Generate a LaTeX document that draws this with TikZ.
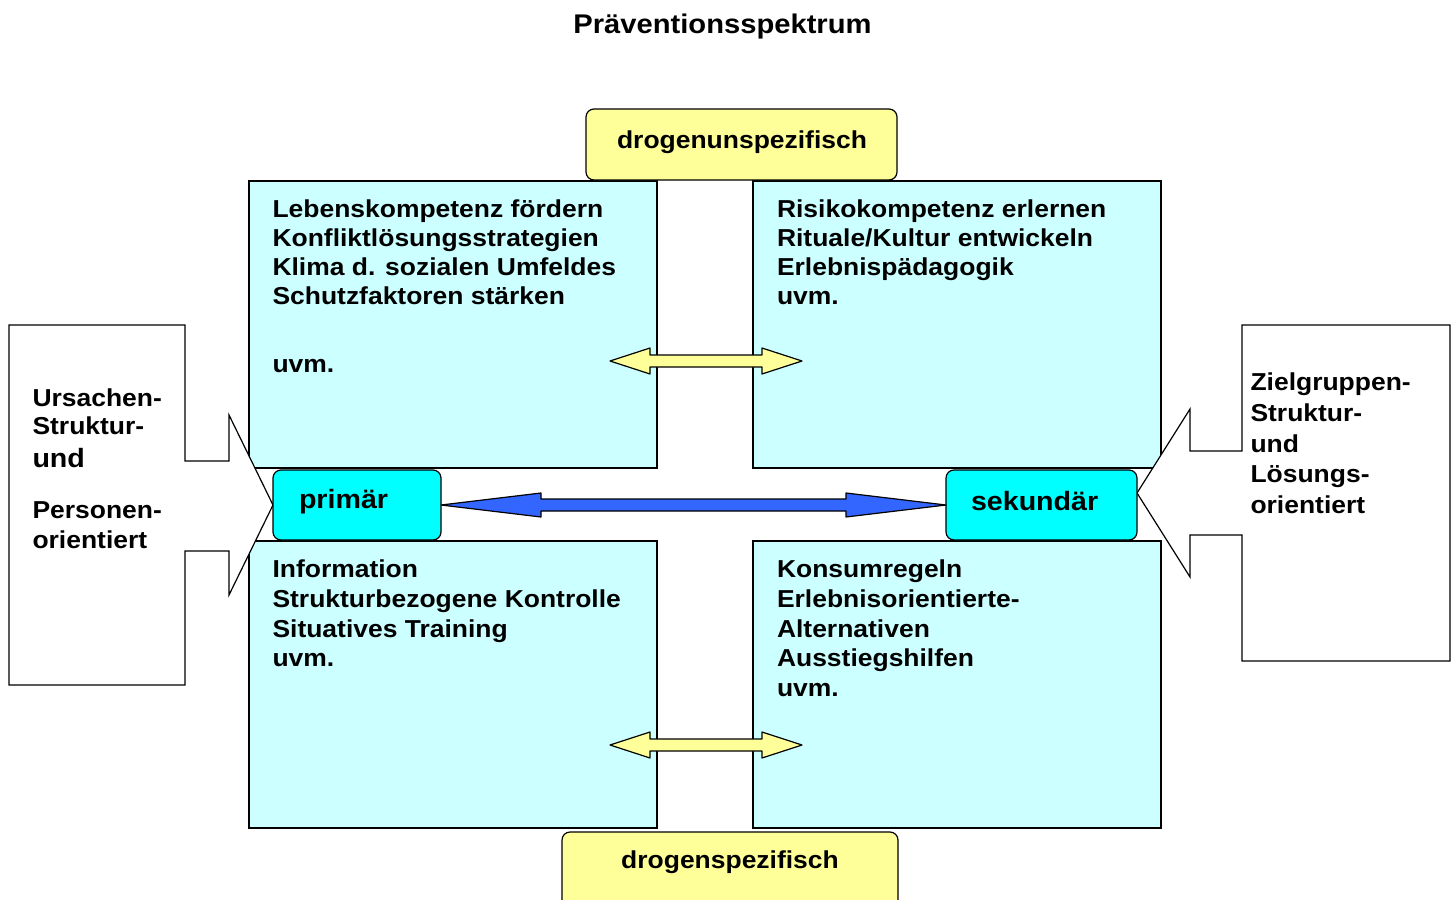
\documentclass[tikz,border=0pt]{standalone}
\usepackage{fontspec}
\setmainfont[FakeStretch=1.08]{Liberation Sans}
\usetikzlibrary{calc}
\definecolor{lcyan}{HTML}{CCFFFF}
\definecolor{fcyan}{HTML}{00FFFF}
\definecolor{lyel}{HTML}{FFFF99}
\definecolor{barrow}{HTML}{3366FF}
\newcommand\myTS{\rule{0pt}{20pt}}
\begin{document}
\begin{tikzpicture}[x=1pt,y=-1pt,
  every node/.style={inner sep=0pt, outer sep=0pt},
  quad/.style={draw=black, line width=1.2pt, fill=lcyan, rectangle, anchor=north west,
    minimum width=408pt, minimum height=287pt},
  ybox/.style={draw=black, line width=1.2pt, fill=lyel, rectangle, rounded corners=8pt, anchor=north west},
  cbox/.style={draw=black, line width=1.2pt, fill=fcyan, rectangle, rounded corners=8pt, anchor=north west,
    minimum height=70pt},
  callout/.style={draw=black, line width=1.2pt, fill=white, line join=miter},
  yarr/.style={draw=black, line width=1.2pt, fill=lyel, line join=round},
  barr/.style={draw=black, line width=1.2pt, fill=barrow, line join=round},
  txt/.style={font=\bfseries\fontsize{24.5}{28.5}\selectfont, align=left, anchor=north west},
  big/.style={font=\bfseries\fontsize{26.5}{30}\selectfont, anchor=base west},
]
\useasboundingbox (0,0) rectangle (1455,899);
\clip (0,0) rectangle (1455,899);

% title
\node[font=\bfseries\fontsize{27}{32}\selectfont, anchor=base] (title) at (722.5,33.3) {Präventionsspektrum};

% quadrants
\node[quad] (tl) at (249,181) {};
\node[quad] (tr) at (753,181) {};
\node[quad] (bl) at (249,541) {};
\node[quad] (br) at (753,541) {};

% yellow boxes
\node[ybox, minimum width=311pt, minimum height=71pt] (dun) at (586,109) {};
\node[font=\bfseries\fontsize{24.5}{28}\selectfont, anchor=base] (duntxt) at (742,148.3) {drogenunspezifisch};
\node[ybox, minimum width=336pt, minimum height=110pt] (ds) at (562,832) {};
\node[font=\bfseries\fontsize{24.5}{28}\selectfont, anchor=base] (dstxt) at (730,868.3) {drogenspezifisch};

% quadrant texts
\node[txt, font=\bfseries\fontsize{24.5}{29.2}\selectfont] (tltxt) at (272.5,197.3)
  {\myTS Lebenskompetenz fördern\\Konfliktlösungsstrategien\\Klima d. sozialen Umfeldes\\Schutzfaktoren stärken\\[38.8pt]uvm.};
\node[txt, font=\bfseries\fontsize{24.5}{29.2}\selectfont] (trtxt) at (777,197.3)
  {\myTS Risikokompetenz erlernen\\Rituale/Kultur entwickeln\\Erlebnispädagogik\\uvm.};
\node[txt, font=\bfseries\fontsize{24.5}{29.85}\selectfont] (bltxt) at (272.5,557.3)
  {\myTS Information\\Strukturbezogene Kontrolle\\Situatives Training\\uvm.};
\node[txt, font=\bfseries\fontsize{24.5}{29.85}\selectfont] (brtxt) at (777,557.3)
  {\myTS Konsumregeln\\Erlebnisorientierte-\\Alternativen\\Ausstiegshilfen\\uvm.};

% yellow double arrows
\coordinate (ya1) at (610,361);
\coordinate (ya2) at (802,361);
\draw[yarr] (ya1) -- ($(ya1)+(40,-13)$) -- ($(ya1)+(40,-6)$) -- ($(ya2)+(-40,-6)$) -- ($(ya2)+(-40,-13)$)
  -- (ya2) -- ($(ya2)+(-40,13)$) -- ($(ya2)+(-40,6)$) -- ($(ya1)+(40,6)$) -- ($(ya1)+(40,13)$) -- cycle;
\coordinate (yb1) at (610,745);
\coordinate (yb2) at (802,745);
\draw[yarr] (yb1) -- ($(yb1)+(40,-13)$) -- ($(yb1)+(40,-6)$) -- ($(yb2)+(-40,-6)$) -- ($(yb2)+(-40,-13)$)
  -- (yb2) -- ($(yb2)+(-40,13)$) -- ($(yb2)+(-40,6)$) -- ($(yb1)+(40,6)$) -- ($(yb1)+(40,13)$) -- cycle;

% left callout
\coordinate (ltip) at (273,505);
\draw[callout] (9,325) -- (185,325) -- (185,461) -- (229,461) -- (229,415) -- (ltip)
  -- (229,595) -- (229,551) -- (185,551) -- (185,685) -- (9,685) -- cycle;
% right callout
\coordinate (rtip) at (1137,493);
\draw[callout] (1450,325) -- (1242,325) -- (1242,451) -- (1190,451) -- (1190,409) -- (rtip)
  -- (1190,577) -- (1190,535) -- (1242,535) -- (1242,661) -- (1450,661) -- cycle;

% primär / sekundär
\node[cbox, minimum width=168pt] (pri) at (273,470) {};
\node[big] (pritxt) at (299,508.3) {primär};
\node[cbox, minimum width=191pt] (sek) at (946,470) {};
\node[big] (sektxt) at (971,510) {sekundär};

% blue double arrow
\draw[barr] (pri.east) -- ($(pri.east)+(100,-12)$) -- ($(pri.east)+(100,-6)$) -- ($(sek.west)+(-100,-6)$)
  -- ($(sek.west)+(-100,-12)$) -- (sek.west) -- ($(sek.west)+(-100,12)$) -- ($(sek.west)+(-100,6)$)
  -- ($(pri.east)+(100,6)$) -- ($(pri.east)+(100,12)$) -- cycle;

% callout texts
\node[txt, font=\bfseries\fontsize{24.5}{28}\selectfont] (lc1) at (32.5,386) {\myTS Ursachen-\\Struktur-};
\node[big] (lc2) at (32.5,467.3) {und};
\node[txt, font=\bfseries\fontsize{24.5}{30}\selectfont] (lc3) at (32.5,498.3) {\myTS Personen-\\orientiert};
\node[txt, font=\bfseries\fontsize{24.5}{30.8}\selectfont] (rc) at (1250.5,370.5)
  {\myTS Zielgruppen-\\Struktur-\\und\\Lösungs-\\orientiert};
\end{tikzpicture}
\end{document}
